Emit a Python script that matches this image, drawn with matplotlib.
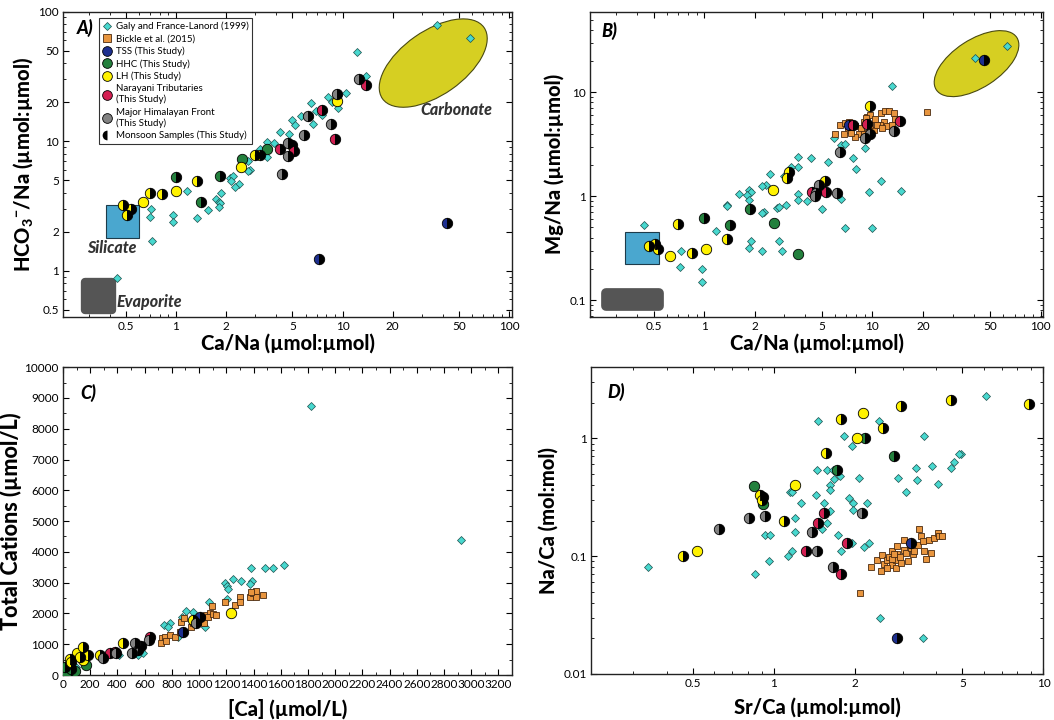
import numpy as np
import matplotlib
matplotlib.use('Agg')
import matplotlib.pyplot as plt
from matplotlib.lines import Line2D
from matplotlib.patches import Ellipse, Rectangle
from matplotlib.ticker import LogLocator, NullFormatter, FixedLocator, FixedFormatter, MultipleLocator
from matplotlib.transforms import ScaledTranslation

plt.rcParams['font.family'] = ['Lato', 'DejaVu Sans']
plt.rcParams['mathtext.fontset'] = 'custom'
plt.rcParams['mathtext.rm'] = 'Lato'
plt.rcParams['mathtext.bf'] = 'Lato:black'

# ---------------- panel A : HCO3/Na vs Ca/Na ----------------
galy_a_x = [37, 58, 12.2, 13.8, 10.5, 8.2, 8.6, 9.4, 6.5, 7.5, 6.9, 5.6, 6.6, 5.0, 5.2, 4.2, 4.8, 3.5, 3.9, 3.2,
            3.5, 2.7, 2.8, 2.7, 2.1, 2.2, 2.15, 2.4, 2.26, 1.87, 1.73, 1.81, 1.83, 1.81, 1.55, 1.16, 1.34, 0.96,
            0.96, 0.71, 0.70, 0.72, 0.44]
galy_a_y = [79, 63, 49, 32, 23.5, 22, 20, 18, 19.7, 16, 17, 15.7, 13.6, 14.5, 13.2, 11.8, 11.3, 9.8, 9.7, 8.7,
            7.6, 7.0, 6.0, 5.9, 5.2, 5.4, 4.9, 4.7, 4.4, 4.0, 3.6, 3.4, 3.3, 3.1, 2.96, 4.1, 2.55, 2.7,
            2.36, 3.0, 2.6, 1.68, 0.87]
tss_a_x = [7.2, 42.6]
tss_a_y = [1.23, 2.33]
tss_a_m = [1, 1]
hhc_a_x = [2.5, 3.5, 1.0, 1.84, 1.41]
hhc_a_y = [7.3, 8.7, 5.3, 5.4, 3.4]
hhc_a_m = [0, 0, 1, 1, 1]
lh_a_x = [9.3, 3.0, 3.2, 2.47, 1.33, 1.0, 0.83, 0.70, 0.63, 0.48, 0.54, 0.51, 5.0]
lh_a_y = [20.5, 7.8, 7.8, 6.3, 4.9, 4.1, 3.9, 4.0, 3.4, 3.2, 3.0, 2.7, 9.3]
lh_a_m = [0, 1, 1, 0, 1, 0, 1, 1, 0, 1, 1, 1, 1]
nar_a_x = [13.9, 7.5, 9.0, 4.2, 5.1]
nar_a_y = [27.3, 17.5, 10.4, 8.7, 8.4]
nar_a_m = [1, 1, 1, 1, 1]
mhf_a_x = [12.5, 9.3, 6.2, 8.5, 5.9, 4.7, 4.7, 4.3]
mhf_a_y = [29.9, 22.9, 15.7, 13.6, 11.2, 9.6, 7.7, 5.6]
mhf_a_m = [1, 1, 1, 1, 1, 1, 1, 1]

# ---------------- panel B : Mg/Na vs Ca/Na ----------------
galy_b_x = [62.8, 40.5, 13.0, 5.9, 6.5, 6.9, 7.7, 7.96, 9.0, 5.45, 4.33, 3.6, 3.63, 3.3, 2.47, 2.97, 2.34, 2.2,
            1.84, 1.9, 1.8, 1.6, 1.85, 1.36, 1.36, 3.63, 3.63, 4.1, 3.07, 2.7, 2.8, 2.26, 2.2, 5.0, 6.5, 9.5,
            11.2, 14.7, 6.9, 9.96, 1.18, 0.44, 0.73, 0.72, 0.97, 0.97, 1.85, 1.9, 2.2, 2.77, 2.9]
galy_b_y = [27.9, 21.4, 11.5, 3.6, 3.1, 3.2, 2.33, 1.84, 2.9, 2.13, 2.33, 2.38, 1.9, 1.9, 1.63, 1.55, 1.29, 1.25,
            1.16, 1.1, 1.02, 1.05, 0.92, 0.83, 0.8, 1.05, 0.91, 0.9, 0.83, 0.77, 0.79, 0.7, 0.69, 0.75, 0.93, 1.09,
            1.39, 1.13, 0.49, 0.49, 0.46, 0.53, 0.30, 0.21, 0.20, 0.148, 0.32, 0.37, 0.30, 0.37, 0.30]
bickle_b_x = [6.0, 6.45, 6.9, 7.3, 7.9, 8.5, 8.9, 9.3, 9.7, 10.4, 11.2, 11.9, 12.5, 13.4, 13.7, 11.7, 11.1, 12.2,
              10.2, 9.3, 8.3, 7.9, 7.2, 6.75, 10.7, 11.4, 13.1, 8.9, 7.5, 9.7, 9.1, 21]
bickle_b_y = [4.0, 4.85, 5.1, 5.2, 4.7, 4.5, 5.2, 5.8, 6.05, 5.5, 6.3, 6.6, 6.6, 6.3, 5.5, 5.2, 4.8, 4.7,
              4.35, 4.1, 3.95, 3.75, 4.35, 4.0, 4.9, 4.5, 4.8, 4.0, 4.1, 4.85, 5.6, 6.5]
tss_b_x = [46, 7.3]
tss_b_y = [20.6, 4.9]
tss_b_m = [1, 1]
hhc_b_x = [1.0, 1.88, 2.6, 3.6, 1.43]
hhc_b_y = [0.62, 0.75, 0.556, 0.277, 0.53]
hhc_b_m = [1, 1, 0, 0, 1]
lh_b_x = [9.7, 3.2, 3.1, 2.55, 5.2, 0.70, 1.36, 1.03, 0.85, 0.63, 0.47, 0.51, 0.53]
lh_b_y = [7.4, 1.71, 1.5, 1.16, 1.41, 0.54, 0.39, 0.307, 0.287, 0.267, 0.33, 0.35, 0.31]
lh_b_m = [1, 1, 1, 0, 1, 1, 1, 0, 1, 0, 1, 1, 1]
nar_b_x = [7.7, 9.3, 14.5, 4.4, 5.3]
nar_b_y = [4.8, 5.0, 5.3, 1.1, 1.1]
nar_b_m = [1, 1, 1, 1, 1]
mhf_b_x = [13.4, 9.7, 9.0, 6.4, 4.8, 4.6, 4.55, 6.2]
mhf_b_y = [4.25, 3.95, 3.6, 2.64, 1.29, 1.08, 1.0, 1.08]
mhf_b_m = [1, 1, 1, 1, 1, 1, 1, 1]

# ---------------- panel C : total cations vs [Ca] ----------------
galy_c_x = [1824, 2925, 1623, 1542, 1488, 1378, 1388, 1371, 1310, 1248, 1187, 1207, 1212, 1207, 1072, 955, 906,
            876, 783, 739, 771, 845, 1040, 551, 588, 411, 10, 37, 98]
galy_c_y = [8740, 4386, 3563, 3487, 3466, 3487, 3065, 2946, 3054, 3119, 3000, 2902, 2783, 2480, 2372, 2036, 2090,
            1895, 1679, 1625, 1570, 1224, 1570, 650, 704, 650, 54, 108, 271]
bickle_c_x = [727, 717, 747, 783, 820, 759, 869, 889, 857, 942, 955, 979, 1016, 1053, 1077, 1097, 1033, 1065, 1102,
              1126, 1187, 1261, 1297, 1302, 1376, 1395, 1420, 1415, 1469, 1383]
bickle_c_y = [1191, 1050, 1245, 1300, 1224, 1115, 1733, 1841, 1408, 1570, 1679, 1841, 1809, 1949, 2004, 2242, 1679,
              1895, 1982, 1949, 2383, 2274, 2523, 2383, 2523, 2653, 2729, 2523, 2599, 2708]
tss_c_x = [1004, 881]
tss_c_y = [1895, 1408]
tss_c_m = [1, 1]
hhc_c_x = [86, 166, 12, 24, 60]
hhc_c_y = [141, 325, 249, 54, 200]
hhc_c_m = [0, 0, 1, 0, 1]
lh_c_x = [1231, 955, 441, 269, 184, 122, 147, 147, 49, 61, 100]
lh_c_y = [2004, 1787, 1050, 650, 650, 596, 899, 487, 509, 433, 700]
lh_c_m = [0, 1, 1, 1, 1, 1, 1, 0, 1, 1, 0]
nar_c_x = [641, 343, 379]
nar_c_y = [1245, 704, 750]
nar_c_m = [1, 1, 1]
mhf_c_x = [526, 575, 551, 392, 294, 509, 630, 980]
mhf_c_y = [1029, 953, 812, 726, 541, 726, 1150, 1700]
mhf_c_m = [1, 1, 1, 1, 1, 1, 1, 1]

# ---------------- panel D : Na/Ca vs Sr/Ca ----------------
galy_d_x = [6.12, 2.46, 1.46, 1.82, 1.95, 3.61, 4.94, 4.85, 4.66, 4.55, 3.85, 3.36, 3.39, 4.07, 2.89, 3.08, 2.07,
            2.22, 1.97, 1.97, 1.9, 1.76, 1.67, 1.61, 1.62, 1.57, 1.65, 1.45, 1.43, 1.53, 1.62, 1.58, 1.51, 1.26,
            1.2, 1.2, 1.15, 1.17, 0.93, 0.97, 1.73, 1.77, 1.17, 1.13, 0.96, 0.85, 0.34, 2.15, 2.25, 1.94, 2.47, 3.56]
galy_d_y = [2.28, 1.40, 1.40, 1.05, 0.86, 1.05, 0.74, 0.74, 0.63, 0.56, 0.575, 0.56, 0.44, 0.41, 0.46, 0.35, 0.46,
            0.28, 0.28, 0.247, 0.31, 0.48, 0.45, 0.40, 0.365, 0.54, 0.54, 0.54, 0.33, 0.28, 0.24, 0.19, 0.17, 0.28,
            0.21, 0.16, 0.35, 0.35, 0.15, 0.15, 0.15, 0.11, 0.11, 0.10, 0.09, 0.07, 0.08, 0.12, 0.13, 0.13, 0.030, 0.020]
bickle_d_x = [2.29, 2.42, 2.51, 2.56, 2.49, 2.62, 2.68, 2.73, 2.75, 2.83, 2.83, 2.87, 2.94, 2.97, 3.03, 3.09, 3.13,
              3.22, 3.27, 3.31, 3.41, 3.46, 3.51, 3.56, 3.61, 3.66, 3.77, 3.82, 3.93, 4.07, 4.11, 4.19, 3.04, 3.2,
              2.62, 2.73, 2.78, 2.87, 2.08]
bickle_d_y = [0.081, 0.093, 0.103, 0.086, 0.074, 0.092, 0.099, 0.110, 0.084, 0.093, 0.079, 0.104, 0.099, 0.087,
              0.113, 0.106, 0.090, 0.117, 0.104, 0.111, 0.125, 0.169, 0.147, 0.133, 0.110, 0.094, 0.137, 0.107,
              0.142, 0.157, 0.147, 0.149, 0.137, 0.125, 0.079, 0.094, 0.104, 0.121, 0.049]
tss_d_x = [0.91, 3.22, 2.87]
tss_d_y = [0.316, 0.13, 0.02]
tss_d_m = [1, 1, 1]
hhc_d_x = [2.18, 2.78, 1.71, 0.84, 0.91]
hhc_d_y = [1.0, 0.71, 0.54, 0.39, 0.277]
hhc_d_m = [1, 1, 1, 0, 0]
lh_d_x = [8.87, 4.54, 2.97, 2.14, 1.78, 2.54, 2.03, 1.56, 1.2, 0.89, 0.90, 1.09, 0.46, 0.52]
lh_d_y = [1.94, 2.11, 1.89, 1.63, 1.45, 1.22, 1.0, 0.75, 0.40, 0.33, 0.30, 0.20, 0.1, 0.11]
lh_d_m = [1, 1, 1, 0, 1, 1, 0, 1, 0, 1, 1, 1, 1, 0]
nar_d_x = [1.53, 1.46, 1.86, 1.31, 1.78]
nar_d_y = [0.23, 0.19, 0.13, 0.11, 0.07]
nar_d_m = [1, 1, 1, 1, 1]
mhf_d_x = [0.81, 0.93, 0.625, 2.13, 1.38, 1.45, 1.65]
mhf_d_y = [0.21, 0.22, 0.17, 0.23, 0.16, 0.11, 0.08]
mhf_d_m = [1, 1, 1, 1, 1, 1, 1]

GALY = '#48d8cf'
BICKLE = '#e8953e'
TSS = '#1d2f8f'
HHC = '#23803d'
LH = '#fff200'
NAR = '#d41f52'
MHF = '#828282'
SILICATE = '#4aa7cf'
EVAP = '#555555'
CARB = '#d6cf22'


def plot_group(ax, xs, ys, mons, color):
    xs, ys, mons = np.array(xs), np.array(ys), np.array(mons, dtype=bool)
    ax.plot(xs[~mons], ys[~mons], 'o', ls='none', ms=7.5, mfc=color, mec='black', mew=0.6, zorder=5)
    ax.plot(xs[mons], ys[mons], 'o', ls='none', ms=7.5, mfc=color, mec='black', mew=0.6,
            fillstyle='left', markerfacecoloralt='black', zorder=5)


def plot_panel(ax, gx, gy, bx, by, groups):
    ax.plot(gx, gy, 'D', ls='none', ms=3.6, mfc=GALY, mec='#1d4f4c', mew=0.5, zorder=3)
    if bx:
        ax.plot(bx, by, 's', ls='none', ms=5, mfc=BICKLE, mec='#4a2a10', mew=0.6, zorder=4)
    for xs, ys, ms, c in groups:
        plot_group(ax, xs, ys, ms, c)


def style_ax(ax):
    ax.tick_params(which='both', direction='in', top=True, right=True, labelsize=8.5, pad=3)
    ax.tick_params(which='major', length=4.5, width=0.8)
    ax.tick_params(which='minor', length=2.5, width=0.6)
    for s in ax.spines.values():
        s.set_linewidth(1.0)
        s.set_color('#222222')


def log_ticks(axis, vals, labels):
    axis.set_major_locator(FixedLocator(vals))
    axis.set_major_formatter(FixedFormatter(labels))
    axis.set_minor_locator(LogLocator(base=10, subs=np.arange(1, 10), numticks=20))
    axis.set_minor_formatter(NullFormatter())


def carbonate(ax, cx, cy, w, h, ang):
    tr = ax.figure.dpi_scale_trans + ScaledTranslation(cx, cy, ax.transData)
    ax.add_patch(Ellipse((0, 0), w, h, angle=ang, transform=tr, fc=CARB, ec='#4a4a10', lw=0.8, zorder=2))


lab = dict(fontsize=14.5, fontweight='black')
tag = dict(fontsize=13, fontweight='black', fontstyle='italic', va='top', ha='left')
reg = dict(fontsize=11.5, fontweight='black', style='italic', color='#333333', va='center')

fig = plt.figure(figsize=(10.54, 7.2), dpi=100)
axA = fig.add_axes([0.0598, 0.560, 0.426, 0.424])
axB = fig.add_axes([0.560, 0.560, 0.430, 0.424])
axC = fig.add_axes([0.0598, 0.0625, 0.426, 0.4275])
axD = fig.add_axes([0.561, 0.064, 0.429, 0.426])

log_vals = [0.5, 1, 2, 5, 10, 20, 50, 100]
log_labs = ['0.5', '1', '2', '5', '10', '20', '50', '100']

# ---- A
axA.set_xscale('log'); axA.set_yscale('log')
axA.set_xlim(0.21, 104); axA.set_ylim(0.44, 100)
log_ticks(axA.xaxis, log_vals, log_labs)
log_ticks(axA.yaxis, log_vals, log_labs)
axA.add_patch(Rectangle((0.38, 1.8), 0.22, 1.4, fc=SILICATE, ec='#1d3b4a', lw=0.8, zorder=2))
axA.add_patch(Rectangle((0.285, 0.5), 0.13, 0.31, fc=EVAP, ec=EVAP, lw=6, joinstyle='round', zorder=2))
carbonate(axA, 35, 40, 1.24, 0.64, 35)
axA.text(0.41, 1.5, 'Silicate', ha='center', **reg)
axA.text(0.44, 0.57, 'Evaporite', ha='left', **reg)
axA.text(48, 17.5, 'Carbonate', ha='center', **reg)
plot_panel(axA, galy_a_x, galy_a_y, [], [],
           [(tss_a_x, tss_a_y, tss_a_m, TSS), (hhc_a_x, hhc_a_y, hhc_a_m, HHC), (lh_a_x, lh_a_y, lh_a_m, LH),
            (nar_a_x, nar_a_y, nar_a_m, NAR), (mhf_a_x, mhf_a_y, mhf_a_m, MHF)])
axA.set_xlabel('Ca/Na (µmol:µmol)', labelpad=1, **lab)
axA.set_ylabel(r'HCO$_\mathbf{3}$$^\mathbf{-}$/Na (µmol:µmol)', labelpad=2, **lab)
axA.text(0.03, 0.975, 'A)', transform=axA.transAxes, **tag)

handles = [
    Line2D([], [], marker='D', ls='none', ms=4, mfc=GALY, mec='#1d4f4c', mew=0.5),
    Line2D([], [], marker='s', ls='none', ms=6, mfc=BICKLE, mec='#4a2a10', mew=0.6),
    Line2D([], [], marker='o', ls='none', ms=7, mfc=TSS, mec='black', mew=0.6),
    Line2D([], [], marker='o', ls='none', ms=7, mfc=HHC, mec='black', mew=0.6),
    Line2D([], [], marker='o', ls='none', ms=7, mfc=LH, mec='black', mew=0.6),
    Line2D([], [], marker='o', ls='none', ms=7, mfc=NAR, mec='black', mew=0.6),
    Line2D([], [], marker='o', ls='none', ms=7, mfc=MHF, mec='black', mew=0.6),
    Line2D([], [], marker='o', ls='none', ms=7, mfc='white', mec='white', mew=0,
           fillstyle='right', markerfacecoloralt='black'),
]
names = ['Galy and France-Lanord (1999)', 'Bickle et al. (2015)', 'TSS (This Study)', 'HHC (This Study)',
         'LH (This Study)', 'Narayani Tributaries\n(This Study)', 'Major Himalayan Front\n(This Study)',
         'Monsoon Samples (This Study)']
leg = axA.legend(handles, names, loc='upper left', bbox_to_anchor=(0.08, 0.978), fontsize=7.0,
                 frameon=True, fancybox=False, edgecolor='black', handlelength=1.0, handletextpad=0.4,
                 labelspacing=0.32, borderpad=0.35, borderaxespad=0)
leg.get_frame().set_linewidth(0.8)

# ---- B
axB.set_xscale('log'); axB.set_yscale('log')
axB.set_xlim(0.21, 104); axB.set_ylim(0.069, 60)
log_ticks(axB.xaxis, log_vals, log_labs)
log_ticks(axB.yaxis, [0.1, 1, 10], ['0.1', '1', '10'])
axB.add_patch(Rectangle((0.34, 0.22), 0.20, 0.235, fc=SILICATE, ec='#1d3b4a', lw=0.8, zorder=2))
axB.add_patch(Rectangle((0.262, 0.087), 0.28, 0.03, fc=EVAP, ec=EVAP, lw=7, joinstyle='round', zorder=2))
carbonate(axB, 41.6, 18.9, 0.96, 0.48, 33)
plot_panel(axB, galy_b_x, galy_b_y, bickle_b_x, bickle_b_y,
           [(tss_b_x, tss_b_y, tss_b_m, TSS), (hhc_b_x, hhc_b_y, hhc_b_m, HHC), (lh_b_x, lh_b_y, lh_b_m, LH),
            (nar_b_x, nar_b_y, nar_b_m, NAR), (mhf_b_x, mhf_b_y, mhf_b_m, MHF)])
axB.set_xlabel('Ca/Na (µmol:µmol)', labelpad=1, **lab)
axB.set_ylabel('Mg/Na (µmol:µmol)', labelpad=4, **lab)
axB.text(0.024, 0.965, 'B)', transform=axB.transAxes, **tag)

# ---- C
axC.set_xlim(0, 3300); axC.set_ylim(0, 10000)
axC.xaxis.set_major_locator(MultipleLocator(200))
axC.xaxis.set_minor_locator(MultipleLocator(100))
axC.yaxis.set_major_locator(MultipleLocator(1000))
axC.yaxis.set_minor_locator(MultipleLocator(500))
plot_panel(axC, galy_c_x, galy_c_y, bickle_c_x, bickle_c_y,
           [(tss_c_x, tss_c_y, tss_c_m, TSS), (hhc_c_x, hhc_c_y, hhc_c_m, HHC), (lh_c_x, lh_c_y, lh_c_m, LH),
            (nar_c_x, nar_c_y, nar_c_m, NAR), (mhf_c_x, mhf_c_y, mhf_c_m, MHF)])
axC.set_xlabel('[Ca] (µmol/L)', labelpad=6, **lab)
axC.set_ylabel('Total Cations (µmol/L)', labelpad=2, fontsize=15.5, fontweight='black')
axC.text(0.038, 0.945, 'C)', transform=axC.transAxes, **tag)

# ---- D
axD.set_xscale('log'); axD.set_yscale('log')
axD.set_xlim(0.21, 10); axD.set_ylim(0.01, 4)
log_ticks(axD.xaxis, [0.5, 1, 2, 5, 10], ['0.5', '1', '2', '5', '10'])
log_ticks(axD.yaxis, [0.01, 0.1, 1], ['0.01', '0.1', '1'])
plot_panel(axD, galy_d_x, galy_d_y, bickle_d_x, bickle_d_y,
           [(tss_d_x, tss_d_y, tss_d_m, TSS), (hhc_d_x, hhc_d_y, hhc_d_m, HHC), (lh_d_x, lh_d_y, lh_d_m, LH),
            (nar_d_x, nar_d_y, nar_d_m, NAR), (mhf_d_x, mhf_d_y, mhf_d_m, MHF)])
axD.set_xlabel('Sr/Ca (µmol:µmol)', labelpad=6, **lab)
axD.set_ylabel('Na/Ca (mol:mol)', labelpad=4, **lab)
axD.text(0.035, 0.95, 'D)', transform=axD.transAxes, **tag)

for ax in (axA, axB, axC, axD):
    style_ax(ax)

fig.savefig('out.png', dpi=100)
